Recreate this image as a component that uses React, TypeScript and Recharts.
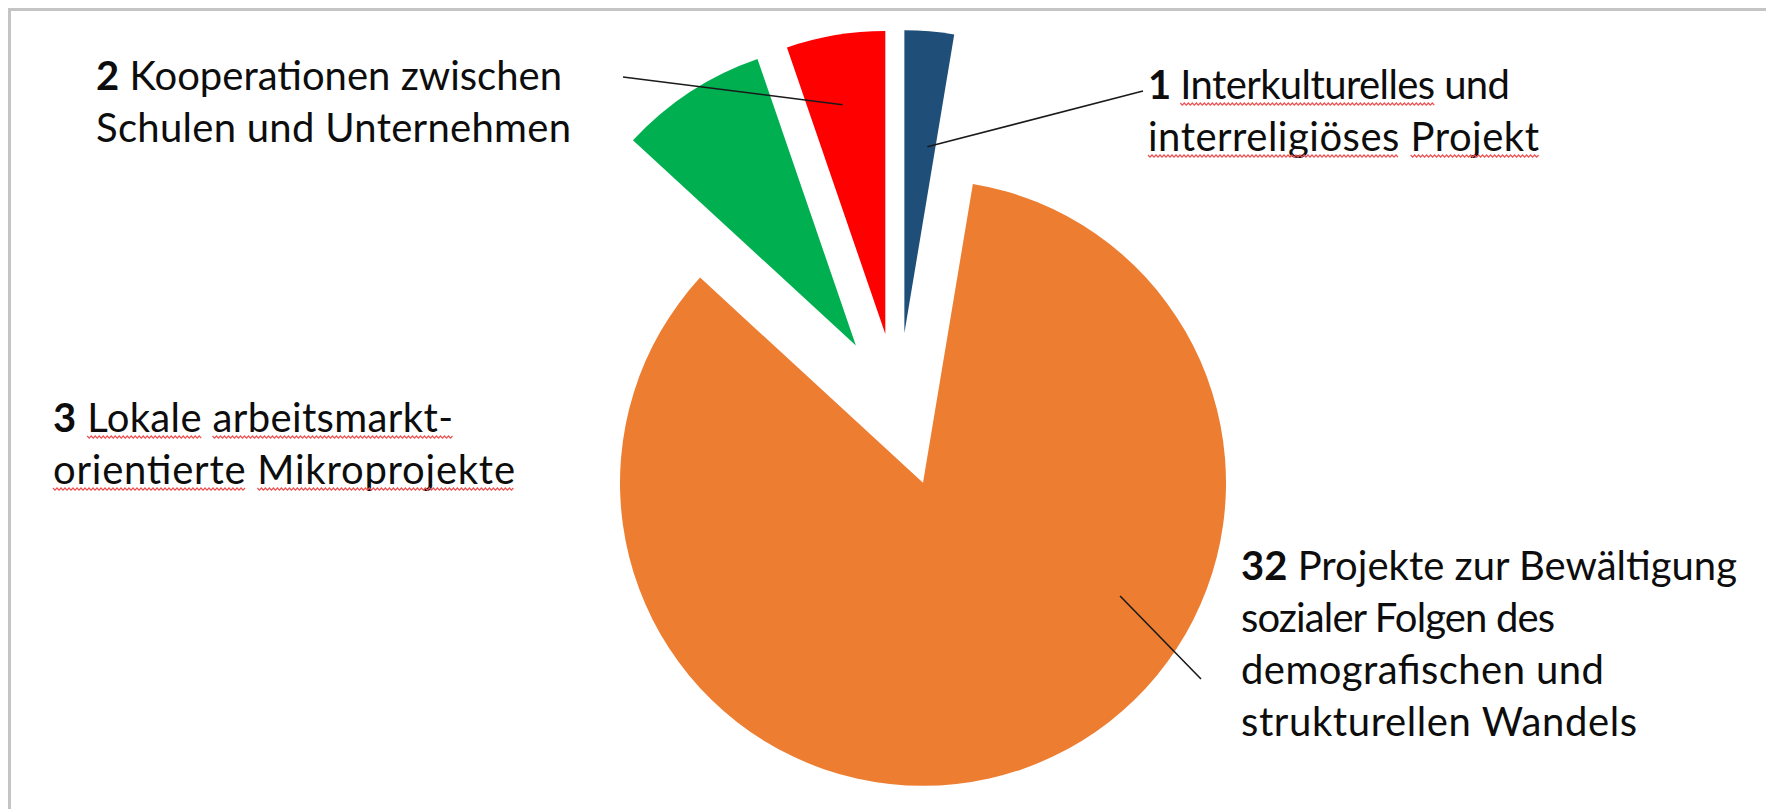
import React, { useLayoutEffect, useRef, useState } from 'react';
import { PieChart, Pie, Cell } from 'recharts';

// ---- data ----
const categories = [
  'Interkulturelles und interreligiöses Projekt',
  'Projekte zur Bewältigung sozialer Folgen des demografischen und strukturellen Wandels',
  'Lokale arbeitsmarktorientierte Mikroprojekte',
  'Kooperationen zwischen Schulen und Unternehmen',
];
const values = [1, 32, 3, 2];
const colors = ['#1F4E79', '#ED7D31', '#00B050', '#FF0000'];

// label text lines per slice (b = bold, u = spell-check underline)
type Seg = { t: string; b?: boolean; u?: boolean };
const labelTexts: Seg[][][] = [
  [
    [{ t: '1', b: true }, { t: ' ' }, { t: 'Interkulturelles', u: true }, { t: ' und' }],
    [{ t: 'interreligiöses', u: true }, { t: ' ' }, { t: 'Projekt', u: true }],
  ],
  [
    [{ t: '32', b: true }, { t: ' Projekte zur Bewältigung' }],
    [{ t: 'sozialer Folgen des' }],
    [{ t: 'demografischen und' }],
    [{ t: 'strukturellen Wandels' }],
  ],
  [
    [{ t: '3', b: true }, { t: ' ' }, { t: 'Lokale', u: true }, { t: ' ' }, { t: 'arbeitsmarkt-', u: true }],
    [{ t: 'orientierte', u: true }, { t: ' ' }, { t: 'Mikroprojekte', u: true }],
  ],
  [
    [{ t: '2', b: true }, { t: ' Kooperationen zwischen' }],
    [{ t: 'Schulen und Unternehmen' }],
  ],
];

// ---- layout ----
const W = 1766;
const H = 801;
const CENTER = { x: 890, y: 402 };
const RADIUS = 303;
const EXPLODE = 77;
const FONT = 'Lato, "Open Sans", sans-serif';
const FONT_SIZE = 40;
const LINE_H = 52;

type LabelLayout = {
  x: number;
  y: number;
  widths: number[];
  line?: { tx: number; ty: number; frac: number; delta: number };
};
const labelLayout: LabelLayout[] = [
  { x: 1140, y: 91, widths: [362, 391], line: { tx: 1135, ty: 83, frac: 0.62, delta: 2.3 } },
  { x: 1233, y: 572, widths: [496, 314, 363, 396], line: { tx: 1193, ty: 671, frac: 0.75, delta: -41.2 } },
  { x: 45, y: 424, widths: [400, 462] },
  { x: 88, y: 82, widths: [466, 475], line: { tx: 615, ty: 69, frac: 0.77, delta: -1.1 } },
];

const data = categories.map((name, i) => ({ name, value: values[i] }));
const total = values.reduce((a, b) => a + b, 0);
// mid angle of each slice, clockwise from 12 o'clock (degrees)
const midAngles = values.map((v, i) => {
  const before = values.slice(0, i).reduce((a, b) => a + b, 0);
  return ((before + v / 2) / total) * 360;
});
const rad = (d: number) => (d * Math.PI) / 180;

function wavePath(a: number, b: number, y: number) {
  const step = 2;
  let d = `M${a.toFixed(1)},${y}`;
  let up = true;
  for (let x = a + step; x <= b; x += step) {
    d += ` L${x.toFixed(1)},${up ? y + 2.2 : y}`;
    up = !up;
  }
  return d;
}

function LabelLine({ x, y, width, segs }: { x: number; y: number; width: number; segs: Seg[] }) {
  const ref = useRef<SVGTextElement>(null);
  const [waves, setWaves] = useState<[number, number][]>([]);
  useLayoutEffect(() => {
    const el = ref.current;
    if (!el) return;
    const out: [number, number][] = [];
    let idx = 0;
    segs.forEach((s) => {
      const n = s.t.length;
      if (s.u && n > 0) {
        try {
          const a = el.getStartPositionOfChar(idx).x;
          const b = el.getEndPositionOfChar(idx + n - 1).x;
          out.push([a, b]);
        } catch (e) {
          /* ignore */
        }
      }
      idx += n;
    });
    setWaves(out);
  }, []);
  return (
    <g>
      <text
        ref={ref}
        x={x}
        y={y}
        textLength={width}
        lengthAdjust="spacing"
        fontFamily={FONT}
        fontSize={FONT_SIZE}
        fill="#0d0d0d"
        textAnchor="start"
      >
        {segs.map((s, si) => (
          <tspan key={si} fontWeight={s.b ? 700 : 400}>
            {s.t}
          </tspan>
        ))}
      </text>
      {waves.map(([a, b], i) => (
        <path key={i} d={wavePath(a, b, y + 4)} fill="none" stroke="#ef4f4f" strokeWidth={1.2} />
      ))}
    </g>
  );
}

const makeLabel = (own: number, pcx: number, pcy: number) => (props: any) => {
  if (props.index !== own) return null;
  const lay = labelLayout[own];
  const lines = labelTexts[own];
  let leader = null;
  if (lay.line) {
    const cx = typeof props.cx === 'number' ? props.cx : pcx;
    const cy = typeof props.cy === 'number' ? props.cy : pcy;
    const r = (props.outerRadius ?? RADIUS) * lay.line.frac;
    const a = rad(midAngles[own] + lay.line.delta);
    const sx = cx + r * Math.sin(a);
    const sy = cy - r * Math.cos(a);
    leader = <line x1={lay.line.tx} y1={lay.line.ty} x2={sx} y2={sy} stroke="#1a1a1a" strokeWidth={1.6} />;
  }
  return (
    <g key={`lab-${own}`}>
      {leader}
      {lines.map((segs, li) => (
        <LabelLine key={li} x={lay.x} y={lay.y + li * LINE_H} width={lay.widths[li]} segs={segs} />
      ))}
    </g>
  );
};

export default function App() {
  return (
    <div style={{ position: 'relative', width: W, height: H, overflow: 'hidden', background: '#fff' }}>
      <div
        style={{
          position: 'absolute',
          left: 0,
          top: 0,
          width: W + 20,
          height: H + 20,
          borderTop: '3px solid #c4c4c4',
          borderLeft: '3px solid #c4c4c4',
          boxSizing: 'border-box',
        }}
      />
      <div style={{ position: 'absolute', left: 0, top: 0 }}>
        <PieChart width={W} height={H} margin={{ top: 0, right: 0, bottom: 0, left: 0 }}>
          {values.map((_, own) => {
            const a = rad(midAngles[own]);
            const pcx = CENTER.x + EXPLODE * Math.sin(a);
            const pcy = CENTER.y - EXPLODE * Math.cos(a);
            return (
              <Pie
                key={own}
                data={data}
                dataKey="value"
                nameKey="name"
                cx={pcx}
                cy={pcy}
                innerRadius={0}
                outerRadius={RADIUS}
                startAngle={90}
                endAngle={-270}
                stroke="none"
                isAnimationActive={false}
                labelLine={false}
                label={makeLabel(own, pcx, pcy)}
              >
                {data.map((d, i) => (
                  <Cell key={d.name} fill={i === own ? colors[i] : 'none'} stroke="none" />
                ))}
              </Pie>
            );
          })}
        </PieChart>
      </div>
    </div>
  );
}
